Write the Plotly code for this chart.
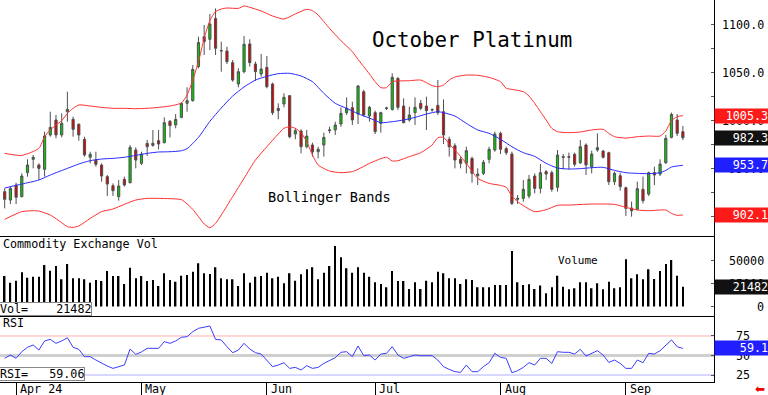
import pandas as pd
import plotly.graph_objects as go

# ---------------- data ----------------
holidays = ["2024-03-29", "2024-05-27", "2024-06-19", "2024-07-04", "2024-09-02"]
dates = pd.bdate_range("2024-03-27", "2024-09-17", freq="C", holidays=holidays)

opens = [926.3, 917.6, 933.2, 921.1, 946.0, 959.9, 954.0, 949.5, 985.2, 1000.8,
         985.2, 1009.4, 1001.5, 996.3, 980.7, 962.0, 959.2, 954.0, 941.9, 932.5,
         921.1, 939.1, 935.6, 969.6, 955.7, 976.5, 974.4, 979.3, 977.2, 999.4,
         995.6, 1003.5, 1018.1, 1020.9, 1056.2, 1087.4, 1084.6, 1106.4, 1072.5, 1072.5,
         1060.4, 1038.2, 1051.0, 1079.8, 1059.0, 1048.6, 1055.5, 1038.2, 1010.5, 1017.4,
         1026.1, 986.2, 989.3, 973.0, 974.8, 967.8, 974.8, 989.7, 990.4, 996.6,
         1008.4, 1013.6, 1007.0, 1030.2, 1004.9, 1008.4, 997.3, 1012.9, 1011.8, 1044.1,
         1015.3, 1000.8, 1008.4, 1018.1, 1015.3, 1011.2, 1016.0, 1009.4, 980.7, 974.1,
         959.9, 955.7, 960.9, 942.9, 945.3, 959.9, 969.6, 986.9, 971.0, 965.4,
         918.3, 919.3, 921.8, 942.5, 929.7, 947.1, 946.0, 930.8, 962.7, 962.0,
         965.1, 956.4, 974.8, 952.3, 969.6, 968.5, 966.8, 936.7, 942.9, 930.4,
         909.3, 907.9, 928.7, 923.8, 946.0, 944.6, 956.4, 982.7, 1000.8, 988.6]
highs = [929.7, 931.5, 935.6, 945.3, 959.9, 964.4, 955.7, 988.6, 1009.4, 1006.0,
         1007.7, 1030.2, 1004.2, 997.3, 983.4, 967.8, 967.8, 955.7, 943.6, 934.9,
         938.4, 941.9, 974.8, 972.3, 967.8, 980.0, 990.4, 990.4, 1003.5, 1000.8,
         1007.0, 1018.8, 1034.7, 1057.9, 1087.4, 1099.5, 1111.0, 1116.8, 1082.2, 1077.0,
         1063.1, 1054.5, 1088.1, 1084.6, 1061.4, 1069.4, 1067.3, 1039.6, 1018.1, 1028.5,
         1026.7, 992.1, 991.1, 990.4, 977.2, 973.0, 987.6, 993.8, 999.0, 1013.9,
         1024.3, 1019.8, 1037.1, 1032.0, 1015.3, 1010.5, 1009.4, 1014.6, 1049.3, 1045.1,
         1023.3, 1014.6, 1024.3, 1021.6, 1025.0, 1012.9, 1042.3, 1022.2, 983.4, 976.5,
         962.7, 973.0, 962.7, 950.5, 959.2, 973.0, 988.6, 988.6, 973.0, 967.8,
         922.8, 938.4, 943.6, 945.3, 955.0, 948.8, 948.1, 969.6, 965.4, 966.8,
         966.8, 980.0, 976.5, 968.9, 986.9, 969.6, 967.8, 947.1, 946.0, 931.5,
         915.9, 936.7, 941.9, 947.1, 952.3, 959.9, 985.2, 1008.4, 1007.0, 994.5]
lows = [908.9, 913.4, 913.4, 920.4, 941.9, 950.5, 938.4, 941.9, 983.4, 981.7,
        982.7, 999.0, 983.4, 979.3, 962.7, 955.7, 952.3, 936.7, 921.8, 921.8,
        916.9, 931.5, 934.9, 950.5, 954.0, 963.3, 973.0, 970.3, 976.5, 982.7,
        992.1, 1002.5, 1009.4, 1019.8, 1054.5, 1068.3, 1073.5, 1068.3, 1051.0, 1059.0,
        1040.6, 1034.7, 1049.3, 1056.2, 1041.6, 1045.8, 1033.7, 1006.0, 1001.5, 1013.9,
        981.7, 980.7, 966.1, 971.3, 962.7, 960.9, 962.7, 986.9, 985.2, 993.8,
        1006.0, 995.6, 996.6, 1004.2, 999.0, 986.2, 987.6, 1011.2, 1010.5, 1011.2,
        997.3, 999.0, 995.6, 1011.2, 990.4, 1009.4, 1006.0, 975.8, 962.7, 950.5,
        950.5, 945.3, 935.6, 933.2, 943.6, 955.7, 967.8, 965.4, 964.4, 912.4,
        913.4, 915.9, 919.3, 924.5, 924.5, 938.4, 926.3, 926.3, 949.5, 949.5,
        952.3, 955.0, 943.6, 945.3, 967.8, 960.9, 933.2, 933.2, 927.3, 901.0,
        900.3, 907.2, 914.1, 921.8, 933.2, 942.5, 955.0, 981.7, 984.1, 979.9]
closes = [918.3, 929.7, 920.4, 942.5, 954.0, 962.0, 950.5, 984.1, 993.1, 985.2,
          997.3, 1011.8, 991.1, 985.2, 964.4, 965.1, 954.7, 942.5, 934.2, 927.3,
          932.2, 933.2, 972.3, 959.2, 965.4, 973.0, 976.5, 975.8, 998.0, 994.9,
          1001.5, 1018.1, 1020.9, 1053.4, 1081.2, 1082.2, 1100.5, 1075.3, 1072.8, 1061.4,
          1042.3, 1051.0, 1079.4, 1060.4, 1051.0, 1053.8, 1035.4, 1008.4, 1012.9, 1024.3,
          983.4, 989.7, 973.0, 984.1, 967.5, 970.3, 982.7, 990.4, 995.6, 1007.7,
          1012.9, 1000.8, 1036.1, 1006.0, 1013.9, 988.6, 1008.4, 1013.2, 1045.1, 1013.9,
          998.0, 1006.0, 1013.9, 1012.9, 1010.5, 1011.5, 1008.4, 985.2, 973.0, 959.2,
          955.7, 968.9, 945.3, 944.6, 956.8, 970.3, 986.2, 970.3, 966.8, 914.1,
          919.3, 928.7, 939.1, 929.7, 946.0, 944.6, 928.7, 964.4, 962.0, 962.7,
          954.7, 973.0, 954.0, 965.4, 972.0, 962.0, 936.7, 945.3, 931.5, 908.9,
          906.5, 929.4, 916.9, 946.0, 943.6, 955.0, 981.7, 1006.6, 986.9, 982.3]

volume = [33300, 26000, 28200, 37300, 31500, 32600, 32600, 45300, 39100, 44200,
          29700, 46400, 30800, 30800, 29700, 26000, 28900, 27900, 38800, 33300,
          33300, 24600, 42400, 30800, 33300, 27900, 28900, 22400, 36200, 28900,
          27100, 33700, 34400, 38000, 47100, 36200, 35500, 42800, 30800, 29700,
          29700, 22400, 36200, 26000, 32600, 33300, 36900, 30800, 32600, 25300,
          36200, 28200, 35100, 40600, 42800, 29700, 36900, 44200, 66100, 53700,
          41700, 36900, 42800, 36900, 32600, 26400, 24600, 20900, 38800, 27900,
          27900, 19100, 26400, 19100, 28200, 26400, 38000, 36200, 30800, 30800,
          24600, 29700, 28900, 20900, 20900, 20900, 23500, 23500, 23500, 60600,
          26400, 23500, 24200, 19100, 22800, 14400, 20900, 33700, 21700, 18800,
          19800, 26400, 26400, 19800, 25300, 18800, 27100, 19800, 20900, 51500,
          30800, 35100, 29700, 40600, 30000, 38800, 46400, 50800, 33700, 21482]

rsi = [46.4, 50.6, 46.4, 54.9, 60.5, 63.5, 57.0, 68.6, 70.7, 65.6,
       68.6, 72.8, 60.5, 57.9, 48.5, 48.5, 44.2, 39.9, 36.5, 33.5,
       35.7, 37.8, 58.3, 51.5, 54.5, 59.2, 59.2, 59.2, 67.7, 65.6,
       68.6, 73.3, 74.1, 80.5, 84.8, 86.1, 87.8, 70.7, 69.9, 61.3,
       53.6, 57.0, 65.6, 58.3, 53.6, 51.9, 44.2, 35.7, 37.8, 40.8,
       33.5, 34.8, 31.4, 37.0, 33.5, 34.8, 39.9, 43.4, 47.2, 54.1,
       54.9, 48.5, 62.2, 49.8, 50.6, 44.2, 51.9, 52.8, 61.3, 50.6,
       46.4, 48.5, 50.6, 49.8, 49.8, 49.8, 44.2, 35.7, 32.2, 29.3,
       28.4, 37.8, 29.3, 29.3, 35.7, 40.8, 52.8, 47.6, 46.4, 28.0,
       30.5, 34.8, 40.8, 37.8, 46.4, 46.4, 39.9, 54.9, 54.1, 54.1,
       51.9, 57.9, 49.3, 52.8, 56.2, 50.6, 41.2, 44.2, 39.9, 33.5,
       33.5, 44.2, 40.8, 52.8, 51.9, 56.2, 63.5, 69.9, 61.3, 59.06]

# Bollinger bands, read at bar numbers (1-based)
upper_bar = [1, 4, 7, 8, 9, 10, 11, 12, 13, 14, 16, 18, 20, 22, 24, 26, 28, 30, 32,
             33, 34, 35, 36, 37, 38, 39, 40, 42, 43, 44, 46, 48, 50, 52, 54, 55, 56, 58,
             60, 62, 63, 64, 65, 66, 67, 68, 69, 70, 72, 74, 76, 77, 78, 79, 80, 82, 84,
             86, 88, 89, 90, 92, 93, 94, 95, 96, 97, 98, 100, 102, 104, 106, 107, 108,
             110, 112, 114, 116, 117, 118, 119, 120]
upper_val = [966.1, 964.0, 971.3, 983.4, 990.4, 995.6, 1000.1, 1007.7, 1012.9, 1016.4,
             1015.3, 1013.9, 1012.9, 1012.9, 1012.5, 1012.9, 1013.9, 1015.3, 1018.5,
             1026.7, 1042.3, 1061.4, 1085.7, 1104.0, 1113.4, 1116.1, 1117.2, 1116.8,
             1119.3, 1117.9, 1114.1, 1108.9, 1105.7, 1111.0, 1115.8, 1114.4, 1109.9,
             1096.0, 1083.2, 1071.8, 1063.8, 1056.2, 1048.6, 1040.6, 1034.4, 1034.4,
             1040.6, 1041.3, 1041.6, 1042.3, 1036.5, 1035.4, 1037.1, 1042.3, 1045.5,
             1047.5, 1047.2, 1045.1, 1040.6, 1033.7, 1032.6, 1030.2, 1025.7, 1018.1,
             1009.4, 1000.8, 992.1, 988.6, 987.6, 988.3, 990.4, 991.1, 986.9, 983.4,
             982.0, 983.4, 984.1, 984.1, 989.3, 1000.1, 1004.2, 1005.3]
mid_bar = [1, 4, 7, 9, 12, 14, 16, 18, 20, 22, 24, 26, 28, 30, 32, 33, 35, 37, 39,
           41, 43, 45, 47, 49, 51, 53, 55, 57, 59, 61, 63, 65, 67, 69, 71, 73, 75, 77,
           78, 80, 82, 84, 86, 88, 90, 92, 94, 96, 98, 100, 102, 104, 106, 108, 110,
           112, 114, 116, 117, 118, 120]
mid_val = [930.1, 934.2, 938.4, 943.6, 950.5, 955.0, 958.5, 960.2, 960.9, 962.0,
           964.0, 966.1, 967.5, 967.8, 968.8, 971.0, 982.7, 999.4, 1013.2, 1025.7,
           1035.1, 1042.3, 1046.2, 1048.9, 1049.3, 1046.5, 1040.6, 1028.5, 1018.1,
           1012.9, 1007.3, 1002.8, 998.0, 999.0, 1000.8, 1003.5, 1007.0, 1009.4,
           1008.4, 1004.9, 997.3, 990.4, 986.9, 980.7, 973.0, 966.8, 963.0, 955.7,
           950.9, 949.8, 950.2, 951.2, 951.6, 948.4, 946.0, 945.3, 945.0, 946.0,
           948.4, 951.9, 953.7]
lower_bar = [1, 4, 6, 7, 9, 11, 12, 13, 14, 16, 18, 20, 22, 24, 26, 28, 30, 32, 33,
             34, 35, 36, 37, 38, 39, 41, 43, 45, 47, 49, 50, 51, 52, 53, 54, 55, 56,
             58, 60, 62, 63, 65, 67, 68, 69, 70, 72, 74, 76, 77, 78, 79, 80, 82, 84,
             86, 88, 89, 90, 91, 92, 94, 96, 98, 100, 104, 108, 110, 112, 114, 116,
             117, 118, 119, 120]
lower_val = [897.5, 905.5, 906.5, 906.2, 902.0, 894.0, 889.9, 889.2, 890.6, 898.5,
             905.5, 908.3, 913.1, 917.6, 919.3, 919.3, 919.0, 918.0, 913.6, 907.9,
             900.3, 892.7, 888.8, 893.3, 902.0, 921.1, 940.1, 959.2, 973.0, 986.2,
             992.1, 993.8, 992.1, 987.6, 978.2, 964.4, 954.0, 947.7, 946.0, 947.1,
             949.5, 955.7, 960.6, 962.0, 958.2, 958.5, 962.7, 966.8, 974.8, 982.4,
             982.7, 975.8, 969.6, 955.7, 940.1, 934.9, 932.8, 930.8, 921.8, 915.9,
             911.7, 905.5, 907.5, 912.1, 912.4, 913.4, 913.1, 910.0, 907.2, 906.5,
             907.2, 907.2, 903.7, 901.7, 902.1]

price_ticks = [1100.0, 1050.0, 1000.0, 950.0, 900.0]
volume_ticks = [50000, 25000, 0]
rsi_ticks = [75, 50, 25]

# ---------------- figure ----------------
W, H = 768, 395
MONO = "DejaVu Sans Mono"
n = len(closes)
xs = list(range(n))


def fy(px):
    return 1 - px / H


def fx(px):
    return px / W


month_idx = []
month_lbl = []
for i, d in enumerate(dates):
    if i > 0 and d.month != dates[i - 1].month:
        month_idx.append(i)
        month_lbl.append(d.strftime("%b %y") if not month_lbl else d.strftime("%b"))

fig = go.Figure()

band_line = dict(width=1, shape="spline", smoothing=0.6)
fig.add_trace(go.Scatter(x=[b - 1 for b in upper_bar], y=upper_val, mode="lines",
                         line=dict(color="#ff3030", **band_line), xaxis="x", yaxis="y"))
fig.add_trace(go.Scatter(x=[b - 1 for b in lower_bar], y=lower_val, mode="lines",
                         line=dict(color="#ff3030", **band_line), xaxis="x", yaxis="y"))
fig.add_trace(go.Scatter(x=[b - 1 for b in mid_bar], y=mid_val, mode="lines",
                         line=dict(color="#2a2aff", **band_line), xaxis="x", yaxis="y"))

fig.add_trace(go.Candlestick(
    x=xs, open=opens, high=highs, low=lows, close=closes,
    increasing=dict(line=dict(color="#505050", width=1), fillcolor="#00cc00"),
    decreasing=dict(line=dict(color="#505050", width=1), fillcolor="#dd0000"),
    whiskerwidth=0, xaxis="x", yaxis="y"))

fig.add_trace(go.Bar(x=xs, y=volume, width=0.26, marker=dict(color="#000000", line=dict(width=0)),
                     xaxis="x2", yaxis="y2"))

fig.add_trace(go.Scatter(x=xs, y=rsi, mode="lines", line=dict(color="#3c3cff", width=1),
                         xaxis="x3", yaxis="y3"))

xr = [-0.825, 124.46]
xdom = [0, fx(714)]
common_x = dict(range=xr, domain=xdom, showgrid=False, zeroline=False, showticklabels=False,
                showline=True, linecolor="black", linewidth=1)
common_y = dict(side="right", showgrid=False, zeroline=False, showticklabels=False,
                showline=True, linecolor="black", linewidth=1, ticks="inside", ticklen=3,
                tickcolor="#555")

fig.update_layout(
    width=W, height=H, margin=dict(l=0, r=0, t=0, b=0, pad=0, autoexpand=False),
    paper_bgcolor="white", plot_bgcolor="white", showlegend=False, boxgap=0.45,
    xaxis=dict(anchor="y", rangeslider=dict(visible=False), ticks="", **common_x),
    xaxis2=dict(anchor="y2", matches="x", ticks="", **common_x),
    xaxis3=dict(anchor="y3", matches="x", ticks="outside", ticklen=14, tickcolor="black",
                tickvals=month_idx, **common_x),
    yaxis=dict(anchor="x", domain=[fy(236), 1], range=[880.2, 1125.5], tick0=0, dtick=25,
               **common_y),
    yaxis2=dict(anchor="x2", domain=[fy(315.5), fy(237)], range=[-9830, 75900],
                tickvals=[0, 25000, 50000], **common_y),
    yaxis3=dict(anchor="x3", domain=[fy(381.5), fy(316)], range=[16.7, 100.6],
                tickvals=[25, 50, 75], **common_y),
)

# RSI reference lines
for lvl, col, wd in [(75, "#ffb0b0", 1), (50, "#cfcfcf", 3), (25, "#b0b0ff", 1)]:
    fig.add_shape(type="line", xref="x3 domain", yref="y3", x0=0, x1=1, y0=lvl, y1=lvl,
                  line=dict(color=col, width=wd), layer="below")

ann = []


def txt(text, x, y, size=11.7, xanchor="left", yref="paper", xref="paper", color="black",
        font=MONO, **kw):
    ann.append(dict(text=text, x=x, y=y, xref=xref, yref=yref, xanchor=xanchor,
                    yanchor="middle", showarrow=False,
                    font=dict(family=font, size=size, color=color), **kw))


txt("October Platinum", fx(472), fy(40), size=20.8, xanchor="center")
txt("Bollinger Bands", fx(329.5), fy(197), size=13.6, xanchor="center")
txt("Commodity Exchange Vol", fx(1), fy(244))
txt("Volume", fx(556), fy(260.5), size=11)
txt("RSI", fx(1), fy(323))

for i, lbl in zip(month_idx, month_lbl):
    txt(lbl, i, fy(388.5), xref="x3", xshift=2)

# right-side scale labels
for v in price_ticks:
    txt(f"{v:.1f}", fx(766), v, yref="y", xanchor="right")
for v in volume_ticks:
    txt(f"{v}", fx(766), v, yref="y2", xanchor="right")
for v in rsi_ticks:
    txt(f"{v}", fx(752), v, yref="y3", xanchor="right")


# last-value boxes
def box(text, y, yref, bg):
    txt(text, fx(714), y, yref=yref, color="white", bgcolor=bg, width=52, height=12,
        align="right", borderpad=1)


box(f"{upper_val[-1]:.1f}", upper_val[-1], "y", "#ff1a1a")
box(f"{closes[-1]:.1f}", closes[-1], "y", "#111111")
box(f"{mid_val[-1]:.1f}", mid_val[-1], "y", "#1f1fff")
box(f"{lower_val[-1]:.1f}", lower_val[-1], "y", "#ff1a1a")
box(f"{volume[-1]}", volume[-1], "y2", "#111111")
box(f"{rsi[-1]:.1f}", rsi[-1], "y3", "#1f1fff")

# info boxes on the left
txt(f"Vol=    {volume[-1]}", fx(-1), fy(309.2), bgcolor="white", bordercolor="#888888",
    borderwidth=1, borderpad=0, height=12)
txt(f"RSI=   {rsi[-1]:.2f}", fx(-1), fy(374.2), bgcolor="white", bordercolor="#888888",
    borderwidth=1, borderpad=0, height=12)

txt("\u2b05", fx(760), fy(389), size=12, xanchor="center", color="#ee0000", font="DejaVu Sans")

fig.update_layout(annotations=ann)
fig.write_html("out.html", config={"displayModeBar": False},
               post_script="document.body.style.margin='0';document.body.style.overflow='hidden';")
